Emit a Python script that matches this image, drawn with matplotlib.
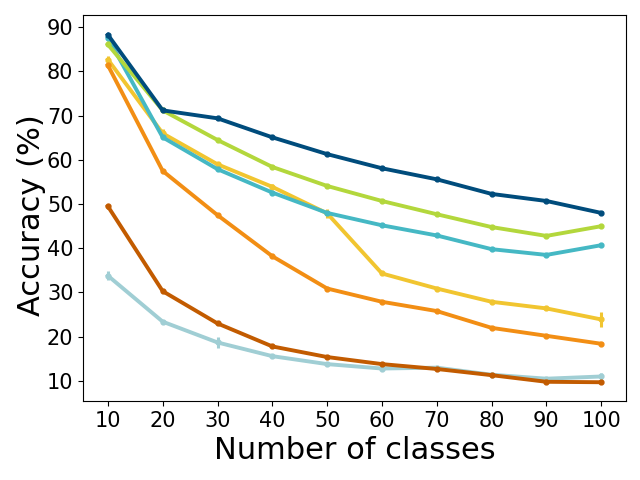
from matplotlib import pyplot as plt

classes = [10, 20, 30, 40, 50, 60, 70, 80, 90, 100]

acc_yellow = [82.7, 66.0, 59.0, 53.9, 47.9, 34.3, 30.9, 27.9, 26.4, 23.9]
err_yellow = [0.7, 1.0, 0.6, 0.6, 1.0, 0.4, 0.3, 0.3, 0.3, 1.7]

acc_teal = [87.6, 65.1, 57.9, 52.6, 48.0, 45.2, 42.9, 39.8, 38.5, 40.7]
err_teal = [0.4, 0.4, 0.3, 0.3, 0.3, 0.3, 0.3, 0.3, 0.3, 0.3]

acc_green = [86.1, 71.2, 64.5, 58.4, 54.1, 50.7, 47.7, 44.8, 42.8, 45.0]
err_green = [0.4, 0.3, 0.3, 0.3, 0.3, 0.3, 0.3, 0.3, 0.3, 0.3]

acc_blue = [88.3, 71.2, 69.4, 65.1, 61.3, 58.1, 55.6, 52.3, 50.7, 48.0]
err_blue = [0.4, 0.3, 0.3, 0.3, 0.3, 0.3, 0.3, 0.3, 0.3, 0.3]

acc_grey = [33.8, 23.4, 18.7, 15.6, 13.8, 12.8, 13.0, 11.4, 10.5, 11.0]
err_grey = [1.0, 0.3, 1.3, 0.3, 0.3, 0.3, 0.4, 0.3, 0.4, 0.7]

acc_brown = [49.5, 30.3, 23.0, 17.8, 15.4, 13.8, 12.7, 11.3, 9.8, 9.7]
err_brown = [0.6, 0.3, 0.3, 0.3, 0.3, 0.3, 0.3, 0.3, 0.3, 0.3]

acc_orange = [81.4, 57.5, 47.5, 38.2, 30.9, 27.9, 25.8, 22.0, 20.2, 18.4]
err_orange = [0.6, 0.4, 0.3, 0.3, 0.3, 0.3, 0.3, 0.3, 0.3, 0.3]

series = [
    (acc_yellow, err_yellow, "#f1c530"),
    (acc_teal, err_teal, "#45b8c4"),
    (acc_green, err_green, "#b3d73c"),
    (acc_blue, err_blue, "#004c7c"),
    (acc_grey, err_grey, "#a0ced4"),
    (acc_brown, err_brown, "#c25b00"),
    (acc_orange, err_orange, "#f28e14"),
]

fig, ax = plt.subplots(figsize=(6.4, 4.8), dpi=100)

for acc, err, col in series:
    ax.errorbar(classes, acc, yerr=err, color=col, linewidth=2.8,
                marker="o", markersize=3.5, elinewidth=2.2, capsize=0)

ax.set_xticks(classes)
ax.set_ylim(5.5, 92.8)
ax.tick_params(labelsize=15)
ax.set_xlabel("Number of classes", fontsize=22)
ax.set_ylabel("Accuracy (%)", fontsize=22)
ax.yaxis.set_label_coords(-0.068, 0.48)

plt.subplots_adjust(left=0.13, right=0.978, top=0.969, bottom=0.165)
plt.savefig("out.png")
